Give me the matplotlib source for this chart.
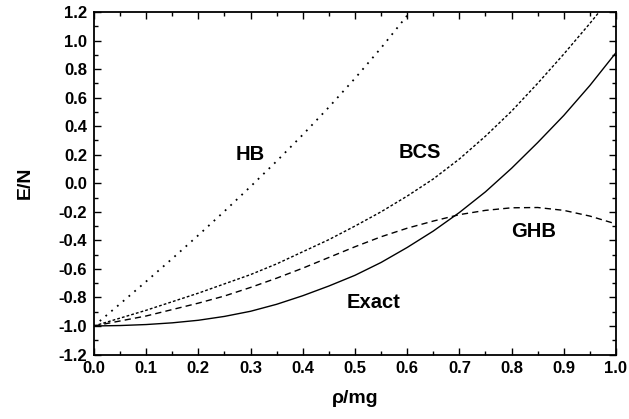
import matplotlib
matplotlib.use("Agg")
import matplotlib.pyplot as plt
from matplotlib.ticker import MultipleLocator

plt.rcParams['font.family'] = ['Liberation Sans', 'DejaVu Sans']
plt.rcParams['font.weight'] = 'bold'

# rho/mg grid
x_vals = [0.0, 0.05, 0.1, 0.15, 0.2, 0.25, 0.3, 0.35, 0.4, 0.45, 0.5,
          0.55, 0.6, 0.65, 0.7, 0.75, 0.8, 0.85, 0.9, 0.95, 1.0]

exact = [-1.0, -0.997, -0.99, -0.978, -0.96, -0.933, -0.897, -0.848, -0.788,
         -0.72, -0.645, -0.555, -0.45, -0.335, -0.205, -0.06, 0.105, 0.285,
         0.475, 0.685, 0.915]

bcs = [-1.0, -0.945, -0.89, -0.83, -0.77, -0.705, -0.64, -0.565, -0.48,
       -0.395, -0.30, -0.20, -0.09, 0.03, 0.17, 0.33, 0.505, 0.70, 0.905,
       1.12, 1.345]

ghb = [-1.0, -0.965, -0.93, -0.885, -0.84, -0.79, -0.73, -0.665, -0.595,
       -0.52, -0.445, -0.375, -0.315, -0.265, -0.22, -0.19, -0.172, -0.17,
       -0.19, -0.23, -0.285]

hb_x = [0.0, 0.05, 0.1, 0.15, 0.2, 0.25, 0.3, 0.35, 0.4, 0.45, 0.5, 0.55, 0.6, 0.65]
hb = [-1.0, -0.845, -0.688, -0.528, -0.364, -0.196, -0.023, 0.155, 0.34,
      0.533, 0.735, 0.948, 1.175, 1.42]

labels = ["HB", "BCS", "GHB", "Exact"]
label_x = [0.299, 0.625, 0.842, 0.535]
label_y = [0.20, 0.214, -0.340, -0.839]

fig = plt.figure(figsize=(6.29, 4.19), dpi=100)
ax = fig.add_axes([0.1494, 0.1539, 0.8299, 0.8175])

ax.plot(x_vals, exact, color='black', lw=1.0, linestyle='-')
ax.plot(x_vals, bcs, color='black', lw=1.0, linestyle=(0, (2.0, 1.5)))
ax.plot(x_vals, ghb, color='black', lw=1.0, linestyle=(0, (4.5, 3.0)))
ax.plot(hb_x, hb, color='black', lw=1.3, linestyle=(0, (1.0, 3.2)))

for t, lx, ly in zip(labels, label_x, label_y):
    ax.text(lx, ly, t, ha='center', va='center', fontsize=14.5, fontweight='bold')

ax.set_xlim(0.0, 1.0)
ax.set_ylim(-1.2, 1.2)
ax.xaxis.set_minor_locator(MultipleLocator(0.05))
ax.yaxis.set_minor_locator(MultipleLocator(0.1))
ax.set_xticks([round(0.1 * i, 1) for i in range(11)])
ax.set_xticklabels([f"{0.1 * i:.1f}" for i in range(11)])
ax.set_yticks([round(-1.2 + 0.2 * i, 1) for i in range(13)])
ax.set_yticklabels([f"{-1.2 + 0.2 * i:.1f}".replace("-0.0", "0.0") for i in range(13)])

ax.tick_params(which='both', direction='in', top=True, right=True,
               labelsize=12, width=1.0)
ax.tick_params(which='major', length=5, pad=5)
ax.tick_params(which='minor', length=3)
for lab in ax.get_xticklabels() + ax.get_yticklabels():
    lab.set_fontweight('bold')
for s in ax.spines.values():
    s.set_linewidth(1.3)

ax.set_xlabel("ρ/mg", fontsize=14, fontweight='bold', labelpad=10)
ax.set_ylabel("E/N", fontsize=14, fontweight='bold', labelpad=18)

fig.savefig("out.png", dpi=100)
